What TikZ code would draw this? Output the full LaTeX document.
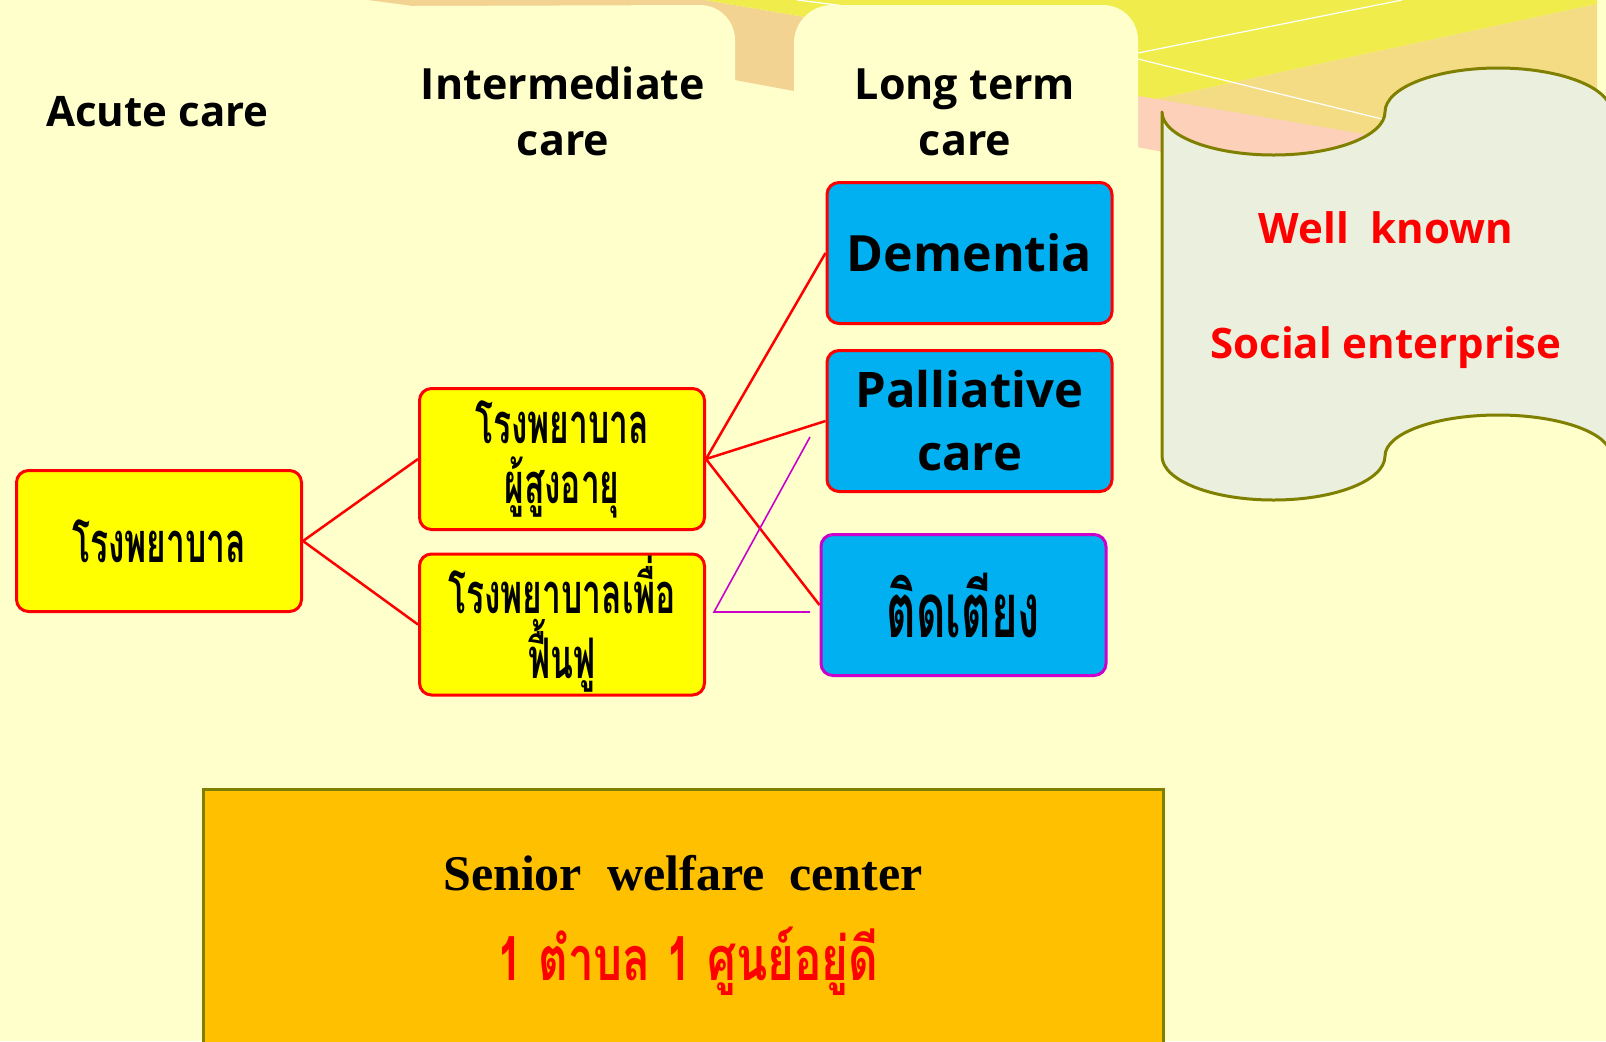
\documentclass[tikz,border=0pt]{standalone}
\usepackage{fontspec}
\newfontfamily\hdrfont{Open Sans}
\newfontfamily\thaifont[Script=Thai,FakeStretch=0.6]{Loma}
\newfontfamily\thaired[Script=Thai,FakeStretch=0.75]{Loma}
\newfontfamily\tnrfont{Liberation Serif}
\definecolor{bgc}{HTML}{FFFFCC}
\definecolor{tanc}{HTML}{F2D391}
\definecolor{yelc}{HTML}{F0EC4B}
\definecolor{tanr}{HTML}{F4DC84}
\definecolor{pinkc}{HTML}{FCD0B9}
\definecolor{yelbox}{HTML}{FFFF00}
\definecolor{redc}{HTML}{FF0000}
\definecolor{skyb}{HTML}{00B0F0}
\definecolor{magc}{HTML}{CC00CC}
\definecolor{orangec}{HTML}{FFC000}
\definecolor{olivec}{HTML}{808000}
\definecolor{scrollc}{HTML}{EBEFDD}
\definecolor{whitec}{HTML}{FFFFFF}
\begin{document}
\begin{tikzpicture}[x=0.5pt,y=-0.5pt,
  box/.style={draw, rounded corners=6pt, line width=1.5pt, minimum width=142.5pt,
    minimum height=70.5pt, inner sep=0pt, align=center},
  ybox/.style={box, draw=redc, fill=yelbox},
  bbox/.style={box, draw=redc, fill=skyb},
  redline/.style={redc, line width=1.25pt},
  magline/.style={magc, line width=0.8pt},
  hdr/.style={font=\hdrfont\bfseries\fontsize{21.5pt}{28pt}\selectfont, align=center, anchor=base, inner sep=0pt},
  thaitxt/.style={font=\thaifont\bfseries\fontsize{28pt}{30pt}\selectfont},
  scrolltxt/.style={text=redc, font=\hdrfont\bfseries\fontsize{21pt}{25pt}\selectfont, anchor=base, inner sep=0pt}]
\useasboundingbox (0,0) rectangle (1606,1041);
\begin{scope}
\clip (0,0) rectangle (1606,1041);
\fill[bgc] (0,0) rectangle (1606,1041);
% background rays
\fill[tanc] (368,0) -- (705,0) -- (805,17) -- (805,93) -- (735,80) -- (413,6) -- cycle;
\fill[yelc] (705,0) -- (1597,0) -- (1597,4) -- (1138,103) -- (1100,103) -- (805,17) -- cycle;
\fill[tanr] (1138,103) -- (1597,4) -- (1597,160) -- (1400,197) -- (1138,147) -- cycle;
\fill[pinkc] (1138,96) -- (1400,140) -- (1400,197) -- (1138,147) -- cycle;
\draw[whitec, line width=0.6pt] (1138,53) -- (1402,0);
\draw[whitec, line width=0.6pt] (1138,59) -- (1390,121);
\draw[whitec, line width=0.6pt] (797,0) -- (845,6);
% tabs
\fill[bgc] (413,6) -- (700,5) .. controls (719.3,5) and (735,20.7) .. (735,40) -- (735,300) -- (413,300) -- cycle;
\fill[bgc] (794,300) -- (794,43) .. controls (794,22) and (811,5) .. (832,5) -- (1103,5) .. controls (1122.3,5) and (1138,20.7) .. (1138,40) -- (1138,300) -- cycle;
% scroll
\draw[olivec, fill=scrollc, line width=1.5pt, line join=round]
  (1162,112) .. controls (1162,135.7) and (1211.7,155) .. (1273.5,155)
  .. controls (1335.3,155) and (1385,135.7) .. (1385,112)
  .. controls (1385,87.7) and (1435.6,68) .. (1498,68)
  .. controls (1560.4,68) and (1611,87.7) .. (1611,112)
  -- (1611,456)
  .. controls (1611,433.4) and (1560.4,415) .. (1498,415)
  .. controls (1435.6,415) and (1385,433.4) .. (1385,456)
  .. controls (1385,480.3) and (1335.3,500) .. (1273.5,500)
  .. controls (1211.7,500) and (1162,480.3) .. (1162,456) -- cycle;
\node[scrolltxt] (wk) at (1386,243) {Well~~known};
\node[scrolltxt] (se) at (1386,358) {Social enterprise};
% headers
\node[hdr, font=\hdrfont\bfseries\fontsize{21pt}{25pt}\selectfont] (acute) at (157.5,126) {Acute care};
\node[hdr] (inter) at (563,155) {Intermediate\\care};
\node[hdr] (longt) at (965,155) {Long term\\care};
% boxes
\node[ybox, thaitxt] (L) at (159,541) {โรงพยาบาล};
\node[ybox, thaitxt] (M1) at (562,459) {โรงพยาบาล\\ผู้สูงอายุ};
\node[ybox, thaitxt, font=\thaifont\bfseries\fontsize{28pt}{32.5pt}\selectfont] (M2) at (562,624.5) {โรงพยาบาลเพื่อ\\ฟื้นฟู};
\node[bbox, font=\hdrfont\bfseries\fontsize{25pt}{30pt}\selectfont] (D) at (969.5,253) {Dementia};
\node[bbox, font=\hdrfont\bfseries\fontsize{24.5pt}{31.5pt}\selectfont] (P) at (969.5,421) {Palliative\\care};
\node[bbox, draw=magc, font=\thaifont\bfseries\fontsize{38pt}{40pt}\selectfont] (T) at (963.5,605) {ติดเตียง};
% connectors
\draw[redline] (L.east) -- (M1.west);
\draw[redline] (L.east) -- (M2.west);
\draw[redline] (M1.east) -- (D.west);
\draw[redline] (M1.east) -- (P.west);
\draw[redline] (M1.east) -- (T.west);
\coordinate (mA) at (810,437);
\coordinate (mB) at (714,612);
\coordinate (mC) at (810,612);
\draw[magline] (mA) -- (mB) -- (mC);
% senior welfare center
\node[draw=olivec, fill=orangec, line width=1.25pt, anchor=north west, minimum width=480pt, minimum height=150pt, inner sep=0pt] (S) at (202,788) {};
\node[anchor=base, inner sep=0pt, font=\tnrfont\bfseries\fontsize{25pt}{30pt}\selectfont] (swc) at (683,890) {Senior~~welfare~~center};
\node[anchor=base, inner sep=0pt, text=redc, font=\thaired\bfseries\fontsize{30.5pt}{34pt}\selectfont] (tb) at (688,980) {1 ตำบล 1 ศูนย์อยู่ดี};
\end{scope}
\end{tikzpicture}
\end{document}
